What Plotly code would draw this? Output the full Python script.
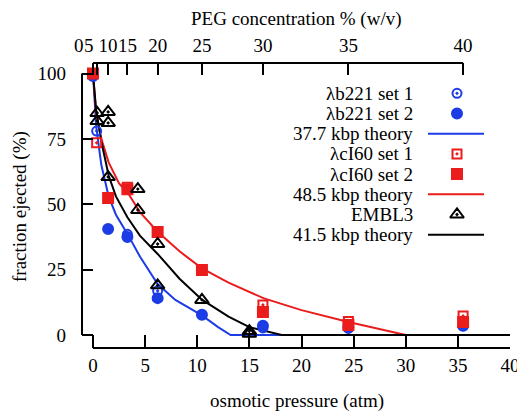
import plotly.graph_objects as go

# ---------------- data ----------------
x_ticks = [0, 5, 10, 15, 20, 25, 30, 35, 40]
y_ticks = [0, 25, 50, 75, 100]
peg_labels = ["0", "5", "10", "15", "20", "25", "30", "35", "40"]
peg_pressure = [0, 0.4, 1.45, 3.3, 6.2, 10.45, 16.3, 24.5, 35.5]

b221_set1_x = [0.35, 3.3, 6.2, 16.3, 24.5, 35.5]
b221_set1_y = [78, 38.5, 16.9, 2.7, 2.5, 3.5]
b221_set2_x = [0, 1.45, 3.3, 6.2, 10.45, 16.3, 24.5, 35.5]
b221_set2_y = [99, 40.5, 37.5, 14.1, 7.7, 3.5, 3.0, 3.5]

ci60_set1_x = [0.35, 3.3, 16.3, 24.5, 35.5]
ci60_set1_y = [73.5, 56.5, 11.5, 5.2, 7.3]
ci60_set2_x = [0, 1.45, 3.3, 6.2, 10.45, 16.3, 24.5, 35.5]
ci60_set2_y = [100, 52.4, 55.7, 39.4, 24.9, 8.8, 3.8, 5.0]

embl3_x = [0.4, 0.4, 1.45, 1.45, 1.45, 4.3, 4.3, 6.2, 6.2, 10.45, 15.0, 15.0]
embl3_y = [84.9, 81.8, 85.3, 81.1, 60.4, 55.8, 47.8, 34.8, 19.0, 13.4, 1.5, 0.5]

theory377_x = [0, 0.3, 0.8, 1.5, 2.2, 3.4, 4.5, 6.2, 7.9, 10.45, 12.0, 13.2, 40]
theory377_y = [100, 80, 65, 53, 46, 38, 30, 19.5, 13.4, 7.5, 3.0, 0, 0]

theory485_x = [0, 0.3, 0.8, 1.5, 2.5, 3.4, 4.5, 6.2, 8.3, 10.45, 13, 16.4, 20, 24.5, 30, 40]
theory485_y = [100, 85, 75, 66, 58, 54, 47, 39.5, 32, 25.5, 20, 14, 9.5, 5, 0, 0]

theory415_x = [0, 0.3, 0.8, 1.5, 2.2, 3.3, 4.5, 6.2, 8.3, 10.45, 13, 15, 18.1, 40]
theory415_y = [100, 86, 74, 61, 53, 45, 38, 31, 21.5, 13.5, 7, 3, 0, 0]

legend_names = ["λb221 set 1", "λb221 set 2", "37.7 kbp theory", "λcI60 set 1",
                "λcI60 set 2", "48.5 kbp theory", "EMBL3", "41.5 kbp theory"]

x_title = "osmotic pressure (atm)"
x2_title = "PEG concentration % (w/v)"
y_title = "fraction ejected (%)"

# ---------------- style ----------------
FONT = "Liberation Serif, Times New Roman, serif"
FS = 19
BLUE = "#1c3ce6"
RED = "#ea1c1c"
BLACK = "#000000"

OFF = 8                      # page body margin
W, H = 525 - OFF, 415 - OFF
# plot area in page pixels
PX_L, PX_R, PX_T, PX_B = 82, 510, 63, 348
L, T = PX_L - OFF, PX_T - OFF
R = W - (PX_R - OFF)
B = H - (PX_B - OFF)
pw, ph = PX_R - PX_L, PX_B - PX_T

def px_to_paper(px, py):
    return (px - PX_L) / pw, (PX_B - py) / ph

fig = go.Figure()

def line_trace(x, y, color):
    fig.add_trace(go.Scatter(x=x, y=y, mode="lines", line=dict(color=color, width=2),
                             showlegend=False, hoverinfo="skip"))

def pts(x, y, symbol, color, size):
    fig.add_trace(go.Scatter(x=x, y=y, mode="markers", cliponaxis=False,
                             marker=dict(symbol=symbol, color=color, size=size,
                                         line=dict(color=color, width=2)),
                             showlegend=False))

line_trace(theory377_x, theory377_y, BLUE)
line_trace(theory485_x, theory485_y, RED)
line_trace(theory415_x, theory415_y, BLACK)

pts(b221_set1_x, b221_set1_y, "circle-open-dot", BLUE, 9)
pts(b221_set2_x, b221_set2_y, "circle", BLUE, 10)
pts(ci60_set2_x, ci60_set2_y, "square", RED, 10)
pts(ci60_set1_x, ci60_set1_y, "square-open-dot", RED, 9)
pts(embl3_x, embl3_y, "triangle-up-open-dot", BLACK, 12)

# dummy trace on the top axis
fig.add_trace(go.Scatter(x=[], y=[], xaxis="x2", yaxis="y", showlegend=False))

tick_font = dict(family=FONT, size=FS, color="black")

# ---------------- manual legend (text left of key) ----------------
row0, dy = 93.3, 20.2
text_x, _ = px_to_paper(415, 0)
key_x, _ = px_to_paper(457, 0)
line_x0, _ = px_to_paper(428, 0)
line_x1, _ = px_to_paper(484, 0)
keys = [("m", "circle-open-dot", BLUE, 9), ("m", "circle", BLUE, 10), ("l", None, BLUE, 0),
        ("m", "square-open-dot", RED, 9), ("m", "square", RED, 10), ("l", None, RED, 0),
        ("m", "triangle-up-open-dot", BLACK, 12), ("l", None, BLACK, 0)]
annotations = []
for i, (name, key) in enumerate(zip(legend_names, keys)):
    _, yp = px_to_paper(0, row0 + dy * i)
    annotations.append(dict(text=name, x=text_x, y=yp, xref="paper", yref="paper",
                            xanchor="right", yanchor="middle", showarrow=False,
                            font=tick_font))
    kind, sym, col, sz = key
    if kind == "m":
        fig.add_trace(go.Scatter(x=[key_x], y=[yp], xaxis="x3", yaxis="y3", mode="markers",
                                 marker=dict(symbol=sym, color=col, size=sz,
                                             line=dict(color=col, width=2)),
                                 showlegend=False, hoverinfo="skip", cliponaxis=False))
    else:
        fig.add_trace(go.Scatter(x=[line_x0, line_x1], y=[yp, yp], xaxis="x3", yaxis="y3",
                                 mode="lines", line=dict(color=col, width=2),
                                 showlegend=False, hoverinfo="skip", cliponaxis=False))

# axis titles as annotations (pixel placed)
ax, ay = px_to_paper(297, 401)
annotations.append(dict(text=x_title, x=ax, y=ay, xref="paper", yref="paper",
                        xanchor="center", yanchor="middle", showarrow=False, font=tick_font))
ax, ay = px_to_paper(296, 19)
annotations.append(dict(text=x2_title, x=ax, y=ay, xref="paper", yref="paper",
                        xanchor="center", yanchor="middle", showarrow=False, font=tick_font))
ax, ay = px_to_paper(20, 207)
annotations.append(dict(text=y_title, x=ax, y=ay, xref="paper", yref="paper", textangle=-90,
                        xanchor="center", yanchor="middle", showarrow=False, font=tick_font))

# the two crowded first PEG labels ("0" and "5") placed tightly side by side
_, lab_y = px_to_paper(0, 45)
for i, shift in ((0, -14), (1, -8)):
    annotations.append(dict(text=peg_labels[i], x=peg_pressure[i], y=lab_y, xref="x2",
                            yref="paper", xshift=shift, xanchor="center", yanchor="middle",
                            showarrow=False, font=tick_font))

# ---------------- axes lines as partial borders ----------------
shapes = [
    dict(type="line", xref="x", yref="paper", x0=x_ticks[0], x1=x_ticks[-1], y0=0, y1=0,
         line=dict(color="black", width=2)),
    dict(type="line", xref="paper", yref="y", x0=0, x1=0, y0=y_ticks[0], y1=y_ticks[-1],
         line=dict(color="black", width=2)),
    dict(type="line", xref="x", yref="paper", x0=peg_pressure[0], x1=peg_pressure[-1], y0=1, y1=1,
         line=dict(color="black", width=2)),
]

xr = [-(93 - PX_L) / ((510 - 93) / 40), 40]
ppu_y = (335 - 73.5) / 100
yr = [-(PX_B - 335) / ppu_y, 100 + (73.5 - PX_T) / ppu_y]

peg_text = ["", ""] + peg_labels[2:]

fig.update_layout(
    width=W, height=H,
    margin=dict(l=L, r=R, t=T, b=B, pad=0),
    paper_bgcolor="white", plot_bgcolor="white",
    font=dict(family=FONT, size=FS, color="black"),
    xaxis=dict(range=xr, domain=[0, 1], tickvals=x_ticks, ticktext=[str(v) for v in x_ticks],
               ticks="inside", ticklen=13, tickwidth=2, tickcolor="black", tickangle=0,
               showline=False, showgrid=False, zeroline=False, tickfont=tick_font,
               automargin=False, ticklabelstandoff=4),
    xaxis2=dict(range=xr, overlaying="x", side="top", anchor="y", tickvals=peg_pressure,
                ticktext=peg_text, ticks="inside", ticklen=12, tickwidth=2, tickcolor="black",
                tickangle=0, showline=False, showgrid=False, zeroline=False, tickfont=tick_font,
                automargin=False, ticklabelstandoff=6),
    yaxis=dict(range=yr, domain=[0, 1], tickvals=y_ticks, ticktext=[str(v) for v in y_ticks],
               ticks="inside", ticklen=11, tickwidth=2, tickcolor="black",
               showline=False, showgrid=False, zeroline=False, tickfont=tick_font,
               automargin=False, ticklabelstandoff=15),
    xaxis3=dict(range=[0, 1], domain=[0, 1], overlaying="x", visible=False, anchor="y3"),
    yaxis3=dict(range=[0, 1], domain=[0, 1], overlaying="y", visible=False, anchor="x3"),
    shapes=shapes,
    annotations=annotations,
)

fig.write_html("out.html")
